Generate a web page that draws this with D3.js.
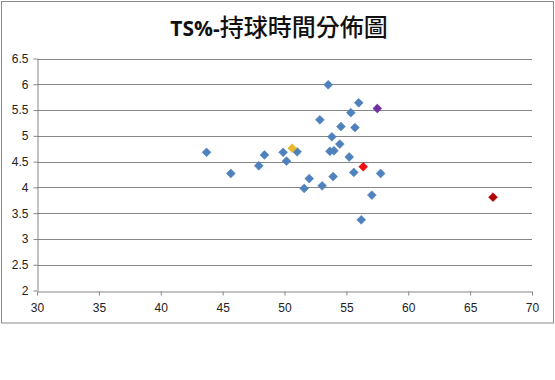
<!DOCTYPE html>
<html><head><meta charset="utf-8">
<script src="https://cdn.jsdelivr.net/npm/d3@7/dist/d3.min.js"></script>
<style>body{margin:0;background:#fff}svg{display:block}</style>
</head><body>
<script>
const titleLatin = "TS%-";
const titleCJK = "持球時間分佈圖";
const xTicks = [30,35,40,45,50,55,60,65,70];
const yTicks = [2,2.5,3,3.5,4,4.5,5,5.5,6,6.5];
// blue series
const blueX = [43.7,45.66,47.92,48.38,49.89,50.16,51.02,51.59,52.0,53.04,53.93,53.67,54.0,54.47,53.83,55.23,55.6,57.77,57.06,56.2,52.86,54.56,55.69,55.36,56.0,53.53];
const blueY = [4.68,4.27,4.42,4.63,4.68,4.51,4.69,3.98,4.17,4.03,4.21,4.70,4.71,4.84,4.98,4.59,4.29,4.27,3.85,3.37,5.31,5.18,5.16,5.45,5.64,5.99];
const highlightX = [50.62,56.36,57.5,66.85];
const highlightY = [4.76,4.40,5.53,3.81];
const highlightColors = ["#E8B92E","#EE1111","#7030A0","#B00000"];

const W=555,H=380;
const svg=d3.select("body").append("svg").attr("width",W).attr("height",H);
svg.append("rect").attr("x",1.5).attr("y",1.5).attr("width",552).attr("height",321.5)
  .attr("fill","#fff").attr("stroke","#8a8a8a").attr("stroke-width",1);

const x=d3.scaleLinear().domain([30,70]).range([37,532]);
const y=d3.scaleLinear().domain([2,6.5]).range([290.5,58.5]);

// gridlines
svg.append("g").selectAll("line").data(yTicks.filter(d=>d>2)).join("line")
  .attr("x1",x(30)).attr("x2",x(70)).attr("y1",d=>Math.round(y(d))+0.5).attr("y2",d=>Math.round(y(d))+0.5)
  .attr("stroke","#868686").attr("stroke-width",1);

const font="'Liberation Sans','DejaVu Sans',sans-serif";
const yAxis=svg.append("g").attr("transform",`translate(${Math.round(x(30))+0.5},0)`)
  .call(d3.axisLeft(y).tickValues(yTicks).tickSize(4).tickSizeOuter(0).tickPadding(5).tickFormat(d=>String(d)));
const xAxis=svg.append("g").attr("transform",`translate(0,${Math.round(y(2))+0.5})`)
  .call(d3.axisBottom(x).tickValues(xTicks).tickSize(4).tickSizeOuter(0).tickPadding(8));
[yAxis,xAxis].forEach(a=>{
  a.select(".domain").attr("stroke","#868686");
  a.selectAll(".tick line").attr("stroke","#868686");
  a.selectAll("text").attr("fill","#222").style("font-family",font).style("font-size","12px");
});

const diamond=d3.symbol().type(d3.symbolDiamond2).size(50);
const pts=blueX.map((v,i)=>({x:v,y:blueY[i],c:"#4F81BD"}))
  .concat(highlightX.map((v,i)=>({x:v,y:highlightY[i],c:highlightColors[i]})));
svg.append("g").selectAll("path").data(pts).join("path")
  .attr("d",diamond).attr("transform",d=>`translate(${x(d.x)},${y(d.y)})`)
  .attr("fill",d=>d.c).attr("stroke",d=>d.c).attr("stroke-width",0.6);

const t=svg.append("text").attr("x",279).attr("y",36).attr("text-anchor","middle").attr("fill","#111");
t.append("tspan").text(titleLatin).style("font-family","'Open Sans','Liberation Sans',sans-serif").style("font-weight","bold").style("font-size","21px");
t.append("tspan").text(titleCJK).style("font-family","'Noto Sans CJK TC',sans-serif").style("font-weight","500").style("font-size","24px");
</script>
</body></html>
